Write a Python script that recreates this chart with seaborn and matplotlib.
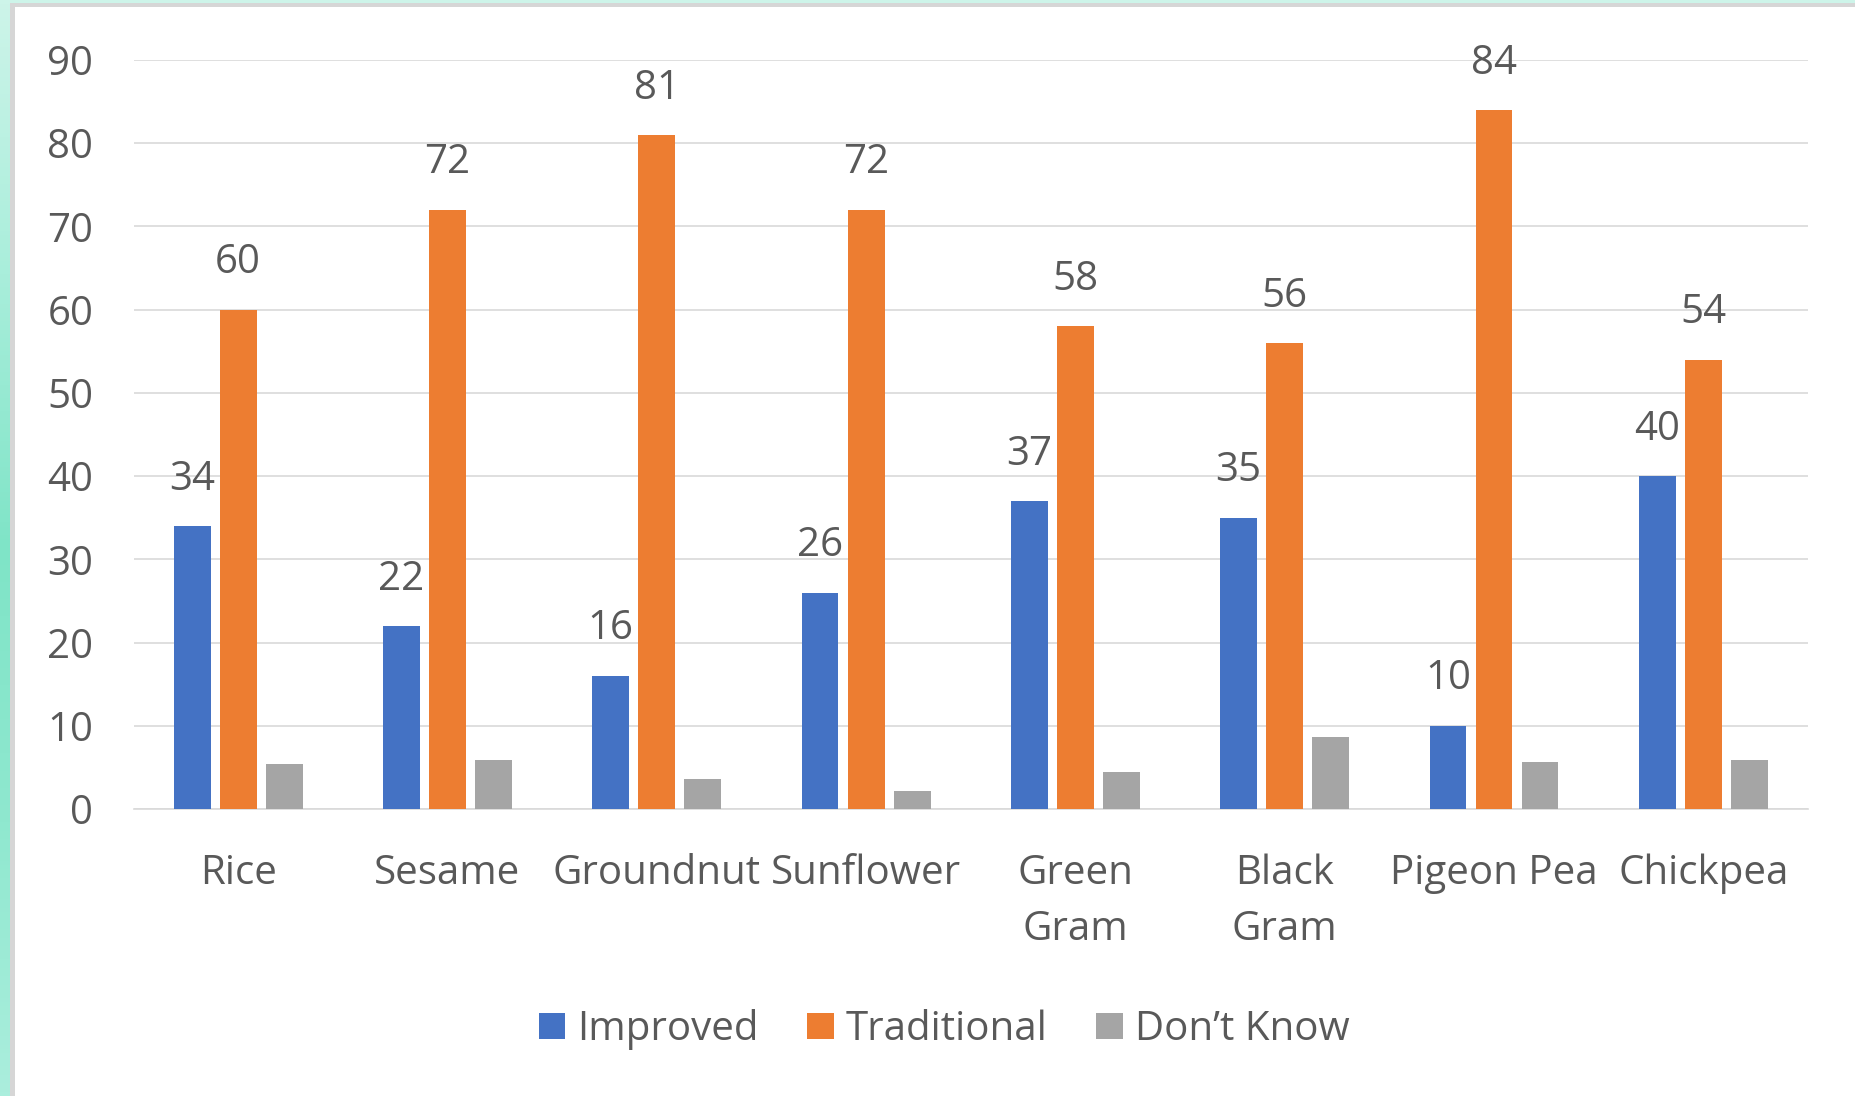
import numpy as np
import pandas as pd
import matplotlib
matplotlib.use("Agg")
import matplotlib.pyplot as plt
from matplotlib.patches import Rectangle, Patch
from matplotlib.colors import LinearSegmentedColormap
import seaborn as sns

# Seed type adoption by crop (percent of respondents)
crops = ["Rice", "Sesame", "Groundnut", "Sunflower", "Green\nGram",
         "Black\nGram", "Pigeon Pea", "Chickpea"]
improved = [34, 22, 16, 26, 37, 35, 10, 40]
traditional = [60, 72, 81, 72, 58, 56, 84, 54]
dont_know = [5.4, 5.9, 3.6, 2.2, 4.5, 8.6, 5.6, 5.9]
series = ["Improved", "Traditional", "Don\u2019t Know"]
colors = ["#4472C4", "#ED7D31", "#A5A5A5"]
yticks = [0, 10, 20, 30, 40, 50, 60, 70, 80, 90]

df = pd.DataFrame({
    "crop": crops * 3,
    "series": [series[0]] * 8 + [series[1]] * 8 + [series[2]] * 8,
    "value": improved + traditional + dont_know,
})

sns.set_style("white")
plt.rcParams["font.family"] = ["Open Sans", "DejaVu Sans"]
text_color = "#595959"
grid_color = "#D9D9D9"
fs = 29

W, H = 1855, 1096
fig = plt.figure(figsize=(W / 100, H / 100), dpi=100)
fig.patch.set_facecolor("white")

# mint backdrop with a soft vertical gradient
bg = fig.add_axes([0, 0, 1, 1], zorder=-3)
cmap = LinearSegmentedColormap.from_list(
    "mint", ["#CDF4E9", "#A9EEDB", "#7FE4C7", "#8FE8CF", "#ABEEDD"])
grad = np.linspace(0, 1, 256).reshape(-1, 1)
bg.imshow(grad, aspect="auto", cmap=cmap, extent=[0, 1, 0, 1], origin="upper")
bg.set_axis_off()

# light grey frame and white chart panel
fig.patches.append(Rectangle((10 / W, 0), 1, 1 - 3 / H, transform=fig.transFigure,
                             facecolor="#D6D6D6", edgecolor="none", zorder=-2))
fig.patches.append(Rectangle((15 / W, 0), 1, 1 - 7 / H, transform=fig.transFigure,
                             facecolor="white", edgecolor="none", zorder=-1))

ax = fig.add_axes([133.5 / W, 1 - 809 / H, (1808 - 133.5) / W, (809 - 60) / H])
ax.set_facecolor("none")

sns.barplot(data=df, x="crop", y="value", hue="series", order=crops,
            hue_order=series, palette=colors, width=0.66, gap=0.2,
            saturation=1, linewidth=0, legend=False, ax=ax, zorder=3)

ax.set_ylim(0, 90)
ax.set_xlim(-0.5, len(crops) - 0.5)
ax.set_yticks(yticks)
ax.set_yticklabels([str(v) for v in yticks])
ax.yaxis.grid(True, color=grid_color, linewidth=1.2, zorder=0)
ax.set_axisbelow(True)
for s in ["top", "right", "left"]:
    ax.spines[s].set_visible(False)
ax.spines["bottom"].set_color(grid_color)
ax.spines["bottom"].set_linewidth(1.2)
ax.set_xlabel("")
ax.set_ylabel("")
ax.tick_params(axis="both", length=0, labelsize=fs, labelcolor=text_color)
ax.tick_params(axis="y", pad=29)
ax.tick_params(axis="x", pad=32)
for lab in ax.get_xticklabels():
    lab.set_linespacing(1.5)

# value labels on the improved and traditional bars
for cont, vals in zip(ax.containers[:2], [improved, traditional]):
    ax.bar_label(cont, labels=[str(v) for v in vals], padding=19,
                 fontsize=fs, color=text_color)

handles = [Patch(facecolor=c, edgecolor="none", label=s) for c, s in zip(colors, series)]
fig.legend(handles=handles, loc="center", bbox_to_anchor=(944 / W, 1 - 1030 / H),
           ncol=3, frameon=False, fontsize=fs, labelcolor=text_color,
           handlelength=0.66, handleheight=0.62, handletextpad=0.3,
           columnspacing=1.2)

fig.savefig("out.png", dpi=100)
